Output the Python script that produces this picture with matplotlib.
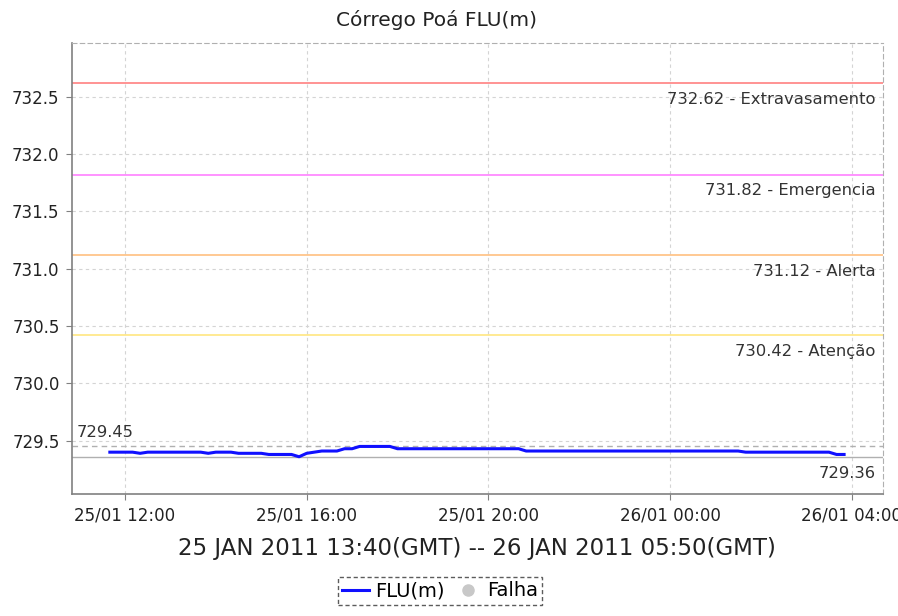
import matplotlib
matplotlib.use("Agg")
import matplotlib.pyplot as plt
import matplotlib.dates as mdates
import matplotlib.transforms as mtransforms
import pandas as pd
from matplotlib.lines import Line2D

# ---- data ----
start_time = "2011-01-25 11:40"
end_time = "2011-01-26 03:50"
times = pd.date_range(start_time, end_time, freq="10min")

flu_values = [
    729.40, 729.40, 729.40, 729.40, 729.39, 729.40, 729.40, 729.40, 729.40, 729.40,
    729.40, 729.40, 729.40, 729.39, 729.40, 729.40, 729.40, 729.39, 729.39, 729.39,
    729.39, 729.38, 729.38, 729.38, 729.38, 729.36, 729.39, 729.40, 729.41, 729.41,
    729.41, 729.43, 729.43, 729.45, 729.45, 729.45, 729.45, 729.45, 729.43,
    729.43, 729.43, 729.43, 729.43, 729.43, 729.43, 729.43, 729.43,
    729.43, 729.43, 729.43, 729.43, 729.43, 729.43, 729.43, 729.43,
    729.41, 729.41, 729.41, 729.41, 729.41, 729.41, 729.41, 729.41, 729.41, 729.41,
    729.41, 729.41, 729.41, 729.41, 729.41, 729.41, 729.41, 729.41, 729.41, 729.41,
    729.41, 729.41, 729.41, 729.41, 729.41, 729.41, 729.41, 729.41, 729.41,
    729.40, 729.40, 729.40, 729.40, 729.40, 729.40, 729.40, 729.40, 729.40, 729.40,
    729.40, 729.40,
    729.38, 729.38,
]

threshold_values = [732.62, 731.82, 731.12, 730.42]
threshold_names = ["Extravasamento", "Emergencia", "Alerta", "Atenção"]
threshold_colors = ["#ff8080", "#ff80ff", "#ffc080", "#ffe680"]

max_value = 729.45
min_value = 729.36

title = "Córrego Poá FLU(m)"
xlabel = "25 JAN 2011 13:40(GMT) -- 26 JAN 2011 05:50(GMT)"
xlim = (pd.Timestamp("2011-01-25 10:50"), pd.Timestamp("2011-01-26 04:41"))
ylim = (729.035, 732.97)

# ---- figure ----
fig = plt.figure(figsize=(8.98, 6.16), dpi=100)
ax = fig.add_axes([72 / 898, 1 - 494 / 616, (882.7 - 72) / 898, (494 - 43) / 616])

ax.set_xlim(*xlim)
ax.set_ylim(*ylim)

ax.grid(True, color="#d4d4d4", linestyle=(0, (3, 3)), linewidth=0.8)
ax.set_axisbelow(True)

# threshold lines
trans = mtransforms.blended_transform_factory(ax.transAxes, ax.transData)
for v, name, c in zip(threshold_values, threshold_names, threshold_colors):
    ax.axhline(v, color=c, linewidth=1.2)
    ax.annotate(f"{v:.2f} - {name}", xy=(1, v), xycoords=trans,
                xytext=(-7, -16), textcoords="offset pixels",
                ha="right", va="center", fontsize=11.8, color="#333333")

# max/min lines
ax.axhline(max_value, color="#b0b0b0", linestyle=(0, (4, 3)), linewidth=1)
ax.axhline(min_value, color="#b0b0b0", linewidth=1)
ax.annotate(f"{max_value:.2f}", xy=(0, max_value), xycoords=trans,
            xytext=(5, 14), textcoords="offset pixels",
            ha="left", va="center", fontsize=11.8, color="#333333")
ax.annotate(f"{min_value:.2f}", xy=(1, min_value), xycoords=trans,
            xytext=(-7, -17), textcoords="offset pixels",
            ha="right", va="center", fontsize=11.8, color="#333333")

# series
ax.plot(times, flu_values, color="#1010ff", linewidth=2.2)

# axes styling
ax.xaxis.set_major_locator(mdates.HourLocator(byhour=[0, 4, 8, 12, 16, 20]))
ax.xaxis.set_major_formatter(mdates.DateFormatter("%d/%m %H:%M"))
ax.set_yticks([729.5, 730.0, 730.5, 731.0, 731.5, 732.0, 732.5])
ax.yaxis.set_major_formatter(matplotlib.ticker.FormatStrFormatter("%.1f"))

for side in ["top", "right"]:
    ax.spines[side].set_color("#b0b0b0")
    ax.spines[side].set_linestyle((0, (4, 3)))
for side in ["left", "bottom"]:
    ax.spines[side].set_color("#808080")
    ax.spines[side].set_linewidth(1.2)

ax.tick_params(axis="both", colors="#808080", length=4, labelcolor="#222222",
               labelsize=12)
ax.tick_params(axis="y", pad=5)
ax.tick_params(axis="x", pad=5)

fig.text(437 / 898, 1 - 20 / 616, title, fontsize=14.5, color="#222222",
         ha="center", va="center")
fig.text(477 / 898, 1 - 548 / 616, xlabel, fontsize=16.5, color="#222222",
         ha="center", va="center")

handles = [
    Line2D([0], [0], color="#1010ff", linewidth=2.2),
    Line2D([0], [0], color="#c8c8c8", marker="o", linestyle="none", markersize=8),
]
leg = fig.legend(handles, ["FLU(m)", "Falha"], loc="center",
                 bbox_to_anchor=(440 / 898, 1 - 591 / 616), ncol=2,
                 fontsize=14, frameon=True, fancybox=False,
                 handlelength=1.4, handletextpad=0.3, columnspacing=0.5,
                 borderpad=0.22, borderaxespad=0)
leg.get_frame().set_edgecolor("#333333")
leg.get_frame().set_linestyle((0, (3, 2)))
leg.get_frame().set_linewidth(1.0)

fig.savefig("out.png", dpi=100)
